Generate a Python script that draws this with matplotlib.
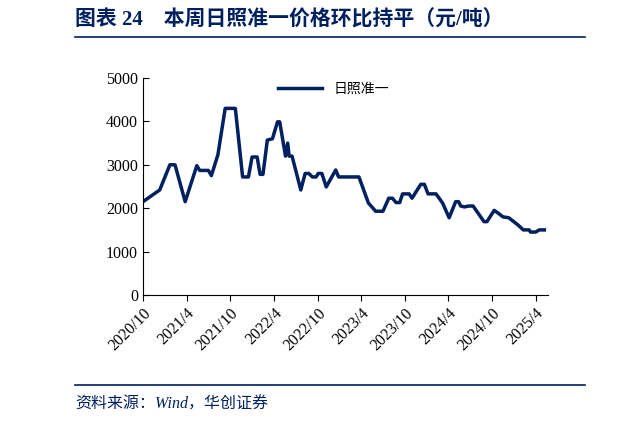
import matplotlib.pyplot as plt
import numpy as np

# months since 2020/10, price (元/吨)
months = [0, 2.3, 3.7, 4.4, 5.8, 7.4, 7.8, 9.0, 9.4, 10.3, 11.3, 12.7, 13.7, 14.5, 15.0, 15.7,
          16.1, 16.5, 17.1, 17.8, 18.5, 18.8, 19.6, 19.9, 20.1, 20.5, 21.7, 22.3, 22.8, 23.3, 23.8,
          24.1, 24.6, 25.2, 26.5, 26.9, 29.7, 31.0, 32.0, 33.0, 33.8, 34.3, 34.8, 35.3, 35.7, 36.6,
          37.0, 38.2, 38.7, 39.2, 40.3, 41.2, 42.1, 43.0, 43.4, 43.7, 44.2, 44.8, 45.4, 46.9, 47.3,
          48.3, 48.9, 49.5, 50.3, 51.6, 52.3, 53.1, 53.3, 54.0, 54.5, 55.2]
price = [2150, 2420, 3000, 3000, 2150, 2980, 2870, 2870, 2750, 3230, 4300, 4300, 2720, 2720, 3180, 3180,
         2780, 2780, 3570, 3600, 3990, 3990, 3200, 3500, 3200, 3200, 2420, 2800, 2800, 2720, 2720,
         2800, 2800, 2490, 2880, 2720, 2720, 2120, 1930, 1930, 2230, 2230, 2130, 2130, 2330, 2330,
         2230, 2550, 2550, 2330, 2330, 2120, 1780, 2150, 2150, 2050, 2030, 2050, 2050, 1690, 1690,
         1950, 1880, 1800, 1780, 1610, 1500, 1500, 1450, 1450, 1500, 1500]
tick_months = [0, 6, 12, 18, 24, 30, 36, 42, 48, 54]
tick_labels = ["2020/10", "2021/4", "2021/10", "2022/4", "2022/10",
               "2023/4", "2023/10", "2024/4", "2024/10", "2025/4"]

blue = "#002060"
cjk = "Noto Sans CJK SC"
serif = "Liberation Serif"

fig = plt.figure(figsize=(6.2, 4.23), dpi=100)
ax = fig.add_axes([143/620, 1-295/423, 405/620, 217/423])
ax.plot(months, price, color=blue, lw=2.5, label="日照准一")
ax.set_xlim(0, 55.7)
ax.set_ylim(0, 5000)
ax.set_yticks(range(0, 5001, 1000))
ax.set_xticks(tick_months)
ax.set_xticklabels(tick_labels, rotation=45, ha="right", rotation_mode="anchor")
for lab in ax.get_xticklabels() + ax.get_yticklabels():
    lab.set_fontfamily(serif)
    lab.set_fontsize(11.5)
for s in ["top", "right"]:
    ax.spines[s].set_visible(False)
ax.tick_params(direction="in", length=4)
ax.tick_params(axis="x", direction="out")
leg = ax.legend(loc="upper center", frameon=False, prop={"family": cjk, "size": 10},
                handlelength=3.2, bbox_to_anchor=(0.47, 1.04))

fig.text(75/620, 1-20/423, "图表 24    本周日照准一价格环比持平（元/吨）", color=blue,
         fontsize=15, fontweight="bold", family=[serif, cjk], va="center")
fig.add_artist(plt.Line2D([75/620, 585/620], [1-37/423]*2, color=blue, lw=1.2))
fig.add_artist(plt.Line2D([75/620, 585/620], [1-385/423]*2, color=blue, lw=1.2))
fig.text(75/620, 1-405/423, "资料来源：Wind，华创证券", color=blue, fontsize=11.5,
         family=[serif, cjk], style="italic", va="center")

fig.savefig("out.png", dpi=100)
